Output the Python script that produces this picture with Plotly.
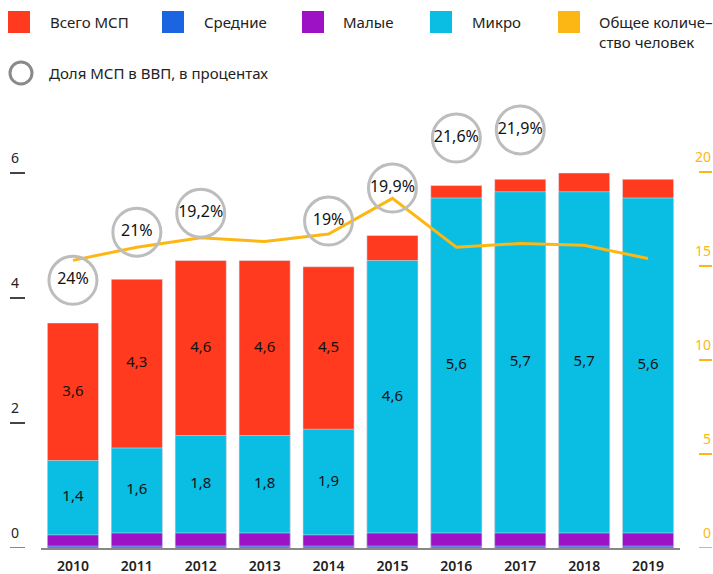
import plotly.graph_objects as go

years = ["2010", "2011", "2012", "2013", "2014", "2015", "2016", "2017", "2018", "2019"]
total_sme = [3.6, 4.3, 4.6, 4.6, 4.5, 5.0, 5.8, 5.9, 6.0, 5.9]
medium = [0.03, 0.03, 0.03, 0.03, 0.03, 0.03, 0.03, 0.03, 0.03, 0.03]
small = [0.21, 0.24, 0.24, 0.24, 0.21, 0.24, 0.24, 0.24, 0.24, 0.24]
micro = [1.4, 1.6, 1.8, 1.8, 1.9, 4.6, 5.6, 5.7, 5.7, 5.6]
people = [15.3, 16.0, 16.5, 16.3, 16.7, 18.6, 16.0, 16.2, 16.1, 15.4]
gdp_years = ["2010", "2011", "2012", "2014", "2015", "2016", "2017"]
gdp_share = ["24%", "21%", "19,2%", "19%", "19,9%", "21,6%", "21,9%"]
left_ticks = [0, 2, 4, 6]
right_ticks = [0, 5, 10, 15, 20]

# label placement (layout, not data)
circle_pos = [14.24, 16.8, 17.81, 17.39, 19.15, 21.81, 22.24]

RED = "#FF3A1F"
BLUE = "#1B66E0"
PURPLE = "#9E12C6"
CYAN = "#0ABDE3"
YELLOW = "#FDB714"
FONT = "Noto Sans"

W, H = 713, 574
ML, MR, MT, MB = 41, 33, 100, 26
PW, PH = W - ML - MR, H - MT - MB
LEFT_MAX = 6 * PH / 375.0
RIGHT_MAX = 20 * PH / 376.0


def px(x):
    return (x - ML) / PW


def py(y):
    return (H - MB - y) / PH


def fmt(v):
    return ("%.1f" % v).replace(".", ",")


fig = go.Figure()
fig.add_trace(go.Bar(x=years, y=total_sme, marker_color=RED, name="Всего МСП"))
fig.add_trace(go.Bar(x=years, y=micro, marker_color=CYAN, name="Микро"))
fig.add_trace(go.Bar(x=years, y=small, marker_color=PURPLE, name="Малые"))
fig.add_trace(go.Bar(x=years, y=medium, marker_color=BLUE, name="Средние"))

# value labels
red_x = [yv for yv, t, m in zip(years, total_sme, micro) if t - m > 1]
red_y = [(t + m) / 2 for t, m in zip(total_sme, micro) if t - m > 1]
red_t = [fmt(t) for t, m in zip(total_sme, micro) if t - m > 1]
fig.add_trace(go.Scatter(x=red_x, y=red_y, text=red_t, mode="text",
                         textfont=dict(family=FONT, size=15, color="#111"),
                         cliponaxis=False))
fig.add_trace(go.Scatter(x=years, y=[(m + s) / 2 for m, s in zip(micro, small)],
                         text=[fmt(m) for m in micro], mode="text",
                         textfont=dict(family=FONT, size=15, color="#111"),
                         cliponaxis=False))

fig.add_trace(go.Scatter(x=years, y=people, mode="lines", yaxis="y2",
                         line=dict(color=YELLOW, width=3)))
fig.add_trace(go.Scatter(x=gdp_years, y=circle_pos, yaxis="y2", mode="markers+text",
                         text=gdp_share, textposition="middle center",
                         textfont=dict(family=FONT, size=16, color="#111"),
                         marker=dict(symbol="circle-open", size=48,
                                     line=dict(color="#BDBDBD", width=3), color="#BDBDBD"),
                         cliponaxis=False))

shapes = []
annotations = []
for t in left_ticks:
    shapes.append(dict(type="line", xref="paper", yref="y", x0=px(10), x1=px(25), y0=t, y1=t,
                       line=dict(color="#888" if t == 0 else "#444", width=2)))
    annotations.append(dict(xref="paper", yref="y", x=px(9), y=t, yshift=4, text=str(t),
                            showarrow=False, xanchor="left", yanchor="bottom",
                            font=dict(family=FONT, size=14, color="#222")))
for t in right_ticks:
    shapes.append(dict(type="line", xref="paper", yref="y2", x0=px(699), x1=px(712), y0=t, y1=t,
                       line=dict(color=YELLOW, width=2)))
    annotations.append(dict(xref="paper", yref="y2", x=px(713), y=t, yshift=4, text=str(t),
                            showarrow=False, xanchor="right", yanchor="bottom",
                            font=dict(family=FONT, size=14, color=YELLOW)))

# legend
leg = [(8, RED, "Всего МСП", 48), (162, BLUE, "Средние", 202), (302, PURPLE, "Малые", 341),
       (430, CYAN, "Микро", 470), (558, YELLOW, "Общее количе–<br>ство человек", 597)]
for x0, c, label, tx in leg:
    shapes.append(dict(type="rect", xref="paper", yref="paper", x0=px(x0), x1=px(x0 + 22),
                       y0=py(33), y1=py(11), fillcolor=c, line=dict(width=0)))
    annotations.append(dict(xref="paper", yref="paper", x=px(tx), y=py(10), text=label,
                            showarrow=False, xanchor="left", yanchor="top", align="left",
                            font=dict(family=FONT, size=15, color="#222")))
shapes.append(dict(type="circle", xref="paper", yref="paper", x0=px(10), x1=px(32),
                   y0=py(84), y1=py(62), line=dict(color="#8A8A8A", width=3)))
annotations.append(dict(xref="paper", yref="paper", x=px(47), y=py(73), text="Доля МСП в ВВП, в процентах",
                        showarrow=False, xanchor="left", yanchor="middle",
                        font=dict(family=FONT, size=15, color="#222")))

fig.update_layout(
    width=W, height=H,
    margin=dict(l=ML, r=MR, t=MT, b=MB, autoexpand=False),
    barmode="overlay", bargap=0.2,
    showlegend=False,
    plot_bgcolor="white", paper_bgcolor="white",
    font=dict(family=FONT, color="#222"),
    xaxis=dict(type="category", range=[-0.5, 9.5], showline=True, linecolor="#888", linewidth=2,
               ticks="", showgrid=False, automargin=False, ticklabelstandoff=4,
               tickfont=dict(family=FONT, size=14, color="#222", weight=600)),
    yaxis=dict(range=[0, LEFT_MAX], showgrid=False, showticklabels=False, zeroline=False,
               automargin=False),
    yaxis2=dict(range=[0, RIGHT_MAX], overlaying="y", side="right", showgrid=False,
                showticklabels=False, zeroline=False, automargin=False),
    shapes=shapes, annotations=annotations,
)

fig.write_html("out.html", config={"displayModeBar": False},
               post_script="document.body.style.margin='0';document.body.style.overflow='hidden';")
